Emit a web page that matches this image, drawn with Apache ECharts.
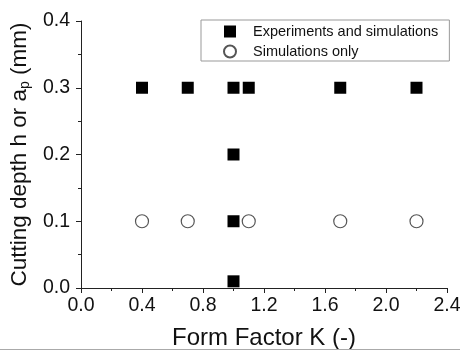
<!DOCTYPE html>
<html><head><meta charset="utf-8">
<script src="https://cdn.jsdelivr.net/npm/echarts@6/dist/echarts.min.js"></script>
<style>html,body{margin:0;padding:0;background:#fff}#c{width:460px;height:353px}</style>
</head><body><div id="c"></div>
<script>
const expK = [0.4, 0.7, 1.0, 1.1, 1.7, 2.2, 1.0, 1.0, 1.0];
const expDepth = [0.3, 0.3, 0.3, 0.3, 0.3, 0.3, 0.2, 0.1, 0.01];
const simK = [0.4, 0.7, 1.1, 1.7, 2.2];
const simDepth = [0.1, 0.1, 0.1, 0.1, 0.1];
const xTicks = [0.0, 0.4, 0.8, 1.2, 1.6, 2.0, 2.4];
const yTicks = [0.0, 0.1, 0.2, 0.3, 0.4];
const seriesNames = ['Experiments and simulations', 'Simulations only'];

const font = 'Liberation Sans, Arial, sans-serif';
const chart = echarts.init(document.getElementById('c'));
chart.setOption({
  animation: false,
  backgroundColor: '#fff',
  grid: {left: 81, right: 13, top: 21, bottom: 65, outerBoundsMode: 'none', containLabel: false},
  legend: {
    orient: 'vertical', left: 201, top: 20,
    width: 246,
    borderColor: '#999', borderWidth: 1,
    padding: [4, 11, 2, 22],
    itemWidth: 12, itemHeight: 12, itemGap: 5,
    textStyle: {fontFamily: font, fontSize: 14.5, color: '#111', padding: [0, 0, 0, 12]},
    data: seriesNames
  },
  xAxis: {
    type: 'value', min: xTicks[0], max: xTicks[xTicks.length - 1], interval: 0.4,
    name: 'Form Factor K (-)', nameLocation: 'middle', nameGap: 38,
    nameTextStyle: {fontFamily: font, fontSize: 24, color: '#111'},
    axisLine: {show: true, lineStyle: {color: '#222', width: 1}},
    axisTick: {show: true, length: 5, lineStyle: {color: '#222'}},
    minorTick: {show: true, splitNumber: 2, length: 3, lineStyle: {color: '#222'}},
    splitLine: {show: false},
    axisLabel: {fontFamily: font, fontSize: 19.5, color: '#111', margin: 8,
      formatter: v => v.toFixed(1)}
  },
  yAxis: {
    type: 'value', min: yTicks[0], max: yTicks[yTicks.length - 1], interval: 0.1,
    name: 'Cutting depth h or a{sub|p} (mm)', nameLocation: 'middle', nameGap: 47,
    nameRotate: 90,
    nameTextStyle: {fontFamily: font, fontSize: 22.5, color: '#111',
      rich: {sub: {fontFamily: font, fontSize: 14, color: '#111', padding: [10, 0, 0, 0]}}},
    axisLine: {show: true, lineStyle: {color: '#222', width: 1}},
    axisTick: {show: true, length: 5, lineStyle: {color: '#222'}},
    minorTick: {show: true, splitNumber: 2, length: 3, lineStyle: {color: '#222'}},
    splitLine: {show: false},
    axisLabel: {fontFamily: font, fontSize: 19.5, color: '#111', margin: 11,
      formatter: v => v.toFixed(1)}
  },
  graphic: [{
    type: 'line', shape: {x1: 0, y1: 349.5, x2: 460, y2: 349.5},
    style: {stroke: '#aaa', lineWidth: 1}, z: 100
  }, {
    type: 'rect', shape: {x: 0, y: 350, width: 460, height: 3},
    style: {fill: '#fff'}, z: 100
  }],
  series: [{
    name: seriesNames[0], type: 'scatter', symbol: 'rect', symbolSize: 12,
    itemStyle: {color: '#000', opacity: 1},
    data: expK.map((k, i) => [k, expDepth[i]]), z: 3
  }, {
    name: seriesNames[1], type: 'scatter', symbol: 'circle', symbolSize: 13,
    itemStyle: {color: '#fff', borderColor: '#555', borderWidth: 1.2, opacity: 1},
    data: simK.map((k, i) => [k, simDepth[i]]), z: 2
  }]
});
</script></body></html>
